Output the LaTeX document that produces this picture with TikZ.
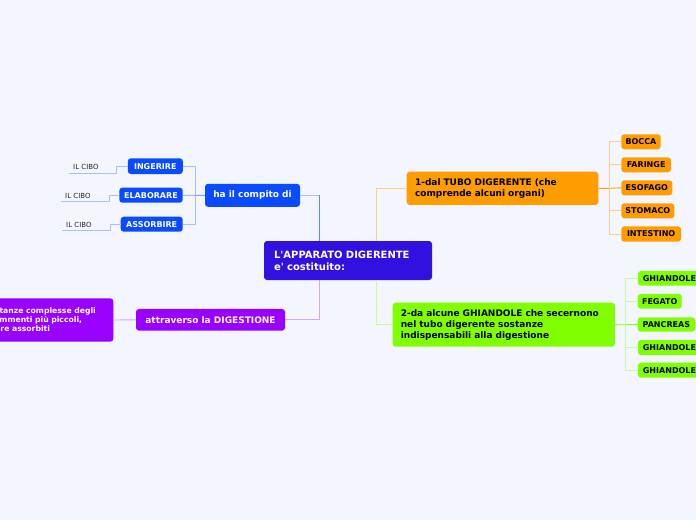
\documentclass[tikz,border=0pt]{standalone}
\usepackage{fontspec}
\setmainfont{DejaVu Sans}[Ligatures=TeXOff]
\usetikzlibrary{calc}
\definecolor{bg}{HTML}{F3F6FE}
\definecolor{cmain}{HTML}{3210E0}
\definecolor{cblue}{HTML}{0A4BFF}
\definecolor{cpurple}{HTML}{9A00FF}
\definecolor{corange}{HTML}{FF9C00}
\definecolor{cgreen}{HTML}{80FF00}
\definecolor{lblue}{HTML}{A9BEFF}
\definecolor{mblue}{HTML}{5C85FF}
\definecolor{lpurple}{HTML}{D8A2FF}
\definecolor{lorange}{HTML}{FFCB85}
\definecolor{lgreen}{HTML}{C2FF8E}
\begin{document}
\begin{tikzpicture}[x=1pt,y=-1pt,
  box/.style={rounded corners=3pt, inner sep=0pt, font=\bfseries},
  mid/.style={box, font=\fontsize{9}{10.7}\selectfont\bfseries},
  leafw/.style={box, fill=cblue, text=white, font=\fontsize{8}{9}\selectfont\bfseries},
  leafo/.style={box, fill=corange, text=black, font=\fontsize{8}{9}\selectfont\bfseries},
  leafg/.style={box, fill=cgreen, text=black, font=\fontsize{8}{9}\selectfont\bfseries},
  cibo/.style={inner xsep=0pt, inner ysep=0pt, text width=48pt, align=left, minimum height=12pt, anchor=south west, font=\fontsize{7}{8}\selectfont, text=black!85},
  conn/.style={line width=0.9pt}
]
\useasboundingbox[fill=bg] (0,0) rectangle (696,520);

% central
\node[box, fill=cmain, text=white, minimum width=168pt, minimum height=39pt,
  text width=148pt, align=left, font=\fontsize{10}{12}\selectfont\bfseries]
  (central) at (348,260.5) {L'APPARATO DIGERENTE\\e' costituito:};

% left upper
\node[mid, fill=cblue, text=white, minimum width=95pt, minimum height=23pt] (ha) at (252.5,195.3) {ha il compito di};
\node[leafw, minimum width=55pt, minimum height=15.7pt] (ing) at (155.3,166.2) {INGERIRE};
\node[leafw, minimum width=63.4pt, minimum height=15pt] (ela) at (151,195.2) {ELABORARE};
\node[leafw, minimum width=62pt, minimum height=15pt] (ass) at (151.7,224.2) {ASSORBIRE};

\node[cibo] (c1) at (69,173) {\hspace*{4pt}IL CIBO};
\node[cibo] (c2) at (61,201.7) {\hspace*{4pt}IL CIBO};
\node[cibo] (c3) at (62,230.7) {\hspace*{4pt}IL CIBO};

% left lower
\node[mid, fill=cpurple, text=white, minimum width=149pt, minimum height=21.7pt] (dig) at (210.5,319.8) {attraverso la DIGESTIONE};
\node[box, fill=cpurple, text=white, minimum width=123.3pt, minimum height=43.4pt,
  text width=123.3pt, inner xsep=0pt, align=left, font=\fontsize{7.7}{9}\selectfont\bfseries]
  (lb) at (51.65,320) {\hspace*{9.5pt}tanze complesse degli\\\hspace*{9.5pt}mmenti più piccoli,\\\hspace*{10.5pt}re assorbiti};

% right upper
\node[mid, fill=corange, text=black, minimum width=191.6pt, minimum height=33.3pt,
  text width=175pt, align=left] (tubo) at (502.5,188.3) {1-dal TUBO DIGERENTE (che\\comprende alcuni organi)};
\node[leafo, minimum width=39.4pt, minimum height=15pt] (o1) at (641,141.8) {BOCCA};
\node[leafo, minimum width=49.7pt, minimum height=15pt] (o2) at (646.15,164.8) {FARINGE};
\node[leafo, minimum width=51pt, minimum height=15pt] (o3) at (646.8,187.8) {ESOFAGO};
\node[leafo, minimum width=53pt, minimum height=15pt] (o4) at (647.8,210.8) {STOMACO};
\node[leafo, minimum width=59.7pt, minimum height=15.4pt] (o5) at (651.15,234) {INTESTINO};

% right lower
\node[mid, fill=cgreen, text=black, minimum width=222.3pt, minimum height=44pt,
  text width=206pt, align=left, font=\fontsize{9}{11}\selectfont\bfseries] (ghi) at (503.8,324.7)
  {2-da alcune GHIANDOLE che secernono\\nel tubo digerente sostanze\\indispensabili alla digestione};
\node[leafg, anchor=west, inner xsep=5pt, minimum height=14.7pt] (g1) at (637.7,278.3) {GHIANDOLE};
\node[leafg, minimum width=44pt, minimum height=14.7pt] (g2) at (659.7,301.3) {FEGATO};
\node[leafg, minimum width=57.3pt, minimum height=14.4pt] (g3) at (666.35,324.5) {PANCREAS};
\node[leafg, anchor=west, inner xsep=5pt, minimum height=15pt] (g4) at (637.7,347.5) {GHIANDOLE};
\node[leafg, anchor=west, inner xsep=5pt, minimum height=15pt] (g5) at (637.7,370.2) {GHIANDOLE};

% junction coordinates
\coordinate (jb) at (195,195.3);
\coordinate (jo) at (609,188.3);
\coordinate (jg) at (625.7,324.7);
\coordinate (cb) at (319.3,241);
\coordinate (cbk) at (319.3,195.3);
\coordinate (cp) at (319.3,280);
\coordinate (co) at (376.7,241);
\coordinate (cg) at (376.7,280);

% connectors centre
\draw[conn, color=mblue] (cb) -- (cbk);
\draw[conn, color=lblue] (cbk) -- (ha.east);
\draw[conn, color=lpurple] (cp) |- (dig.east);
\draw[conn, color=lorange] (co) |- (tubo.west);
\draw[conn, color=lgreen] (cg) |- (ghi.west);

% left upper branches
\draw[conn, color=mblue!80] (ha.west) -- (jb) -- (ela.east);
\draw[conn, color=lblue] (jb) |- (ing.east);
\draw[conn, color=lblue] (jb) |- (ass.east);
\draw[conn, color=lblue] (ing.west) -- ++(-11,0) |- (c1.south west);
\draw[conn, color=lblue] (ela.west) -- ++(-10,0) |- (c2.south west);
\draw[conn, color=lblue] (ass.west) -- ++(-10,0) |- (c3.south west);

% left lower
\draw[conn, color=lpurple] (dig.west) -- (lb.east);

% orange branches
\draw[conn, color=corange] (tubo.east) -- (jo) -- (o3.west);
\foreach \n in {o1,o2,o4,o5} \draw[conn, color=lorange] (jo) |- (\n.west);

% green branches
\draw[conn, color=cgreen] (ghi.east) -- (jg) -- (g3.west);
\foreach \n in {g1,g2,g4,g5} \draw[conn, color=lgreen] (jg) |- (\n.west);
\end{tikzpicture}
\end{document}
